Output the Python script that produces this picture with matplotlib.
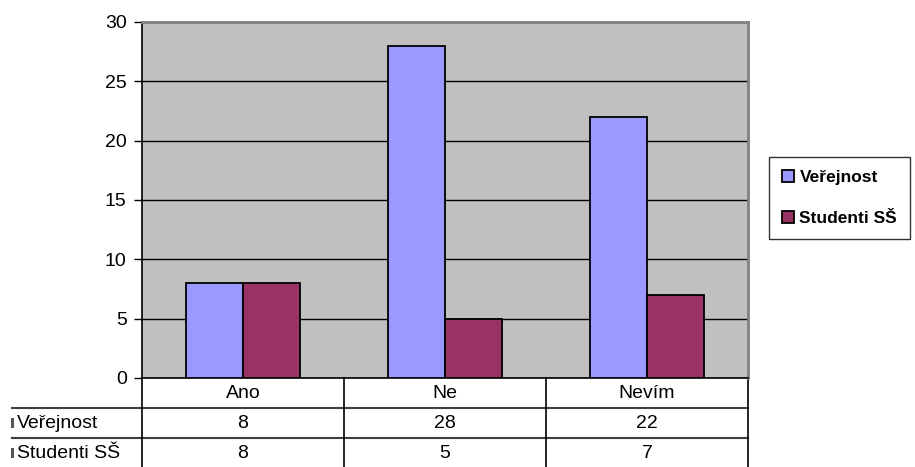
import matplotlib
matplotlib.use('Agg')
import matplotlib.pyplot as plt
import matplotlib.transforms as mtransforms
from matplotlib.patches import Rectangle

plt.rcParams['font.family'] = ['Liberation Sans', 'DejaVu Sans']

# data
kategorie = ['Ano', 'Ne', 'Nevím']
verejnost = [8, 28, 22]
studenti = [8, 5, 7]
serie_nazvy = ['Veřejnost', 'Studenti SŠ']
barvy = ['#9999FF', '#993366']

W, H = 915, 467
fig = plt.figure(figsize=(W / 100, H / 100), dpi=100)
ax = fig.add_axes([142 / W, 89 / H, 606 / W, 356 / H])
ax.set_facecolor('#C0C0C0')

x = range(len(kategorie))
sirka = 0.283
ax.bar([i - sirka / 2 for i in x], verejnost, sirka, color=barvy[0],
       edgecolor='black', linewidth=1.3, label=serie_nazvy[0], zorder=3)
ax.bar([i + sirka / 2 for i in x], studenti, sirka, color=barvy[1],
       edgecolor='black', linewidth=1.3, label=serie_nazvy[1], zorder=3)

ax.set_xlim(-0.5, len(kategorie) - 0.5)
ax.set_ylim(0, 30)
ax.set_yticks(range(0, 31, 5))
ax.set_xticks([])
ax.tick_params(axis='y', length=6, width=1, labelsize=14, pad=5)
ax.yaxis.grid(True, color='black', linewidth=1, zorder=1)
ax.set_axisbelow(True)
for s in ['top', 'right']:
    ax.spines[s].set_color('#808080')
    ax.spines[s].set_linewidth(2)
ax.spines['left'].set_linewidth(1.2)
ax.spines['bottom'].set_linewidth(1.2)

# tabulka pod grafem
radek = 30 / 356
fs = 14
trans = mtransforms.blended_transform_factory(ax.transData, ax.transAxes)
lcolor = '#404040'
for j in range(1, 3):
    ax.plot([-0.5 - 130 / 202, len(kategorie) - 0.5], [-radek * j] * 2,
            color=lcolor, lw=1.5, transform=trans, clip_on=False)
for i in range(len(kategorie) + 1):
    ax.plot([i - 0.5] * 2, [0, -radek * 3.2], color='black', lw=1.2,
            transform=trans, clip_on=False)
for i, k in enumerate(kategorie):
    ax.text(i, -radek * 0.5, k, ha='center', va='center', fontsize=fs,
            transform=trans)
    ax.text(i, -radek * 1.5, str(verejnost[i]), ha='center', va='center',
            fontsize=fs, transform=trans)
    ax.text(i, -radek * 2.5, str(studenti[i]), ha='center', va='center',
            fontsize=fs, transform=trans)

for j, nazev in enumerate(serie_nazvy):
    yc = 1 - (423 + 30 * j) / H
    fig.text(17 / W, yc, nazev, ha='left', va='center', fontsize=fs)
    fig.patches.append(Rectangle((11 / W, yc - 5 / H), 3 / W, 10 / H,
                                 facecolor='#555555', edgecolor='none',
                                 transform=fig.transFigure))

leg = fig.legend(loc='upper left', bbox_to_anchor=(769 / W, 1 - 157 / H),
                 fontsize=12.5, frameon=True, fancybox=False,
                 edgecolor='black', handlelength=0.7, handleheight=0.7,
                 handletextpad=0.3, labelspacing=1.5, borderpad=0.75,
                 borderaxespad=0)
leg.get_frame().set_linewidth(1)
for t in leg.get_texts():
    t.set_fontweight('bold')

fig.savefig('out.png', dpi=100)
